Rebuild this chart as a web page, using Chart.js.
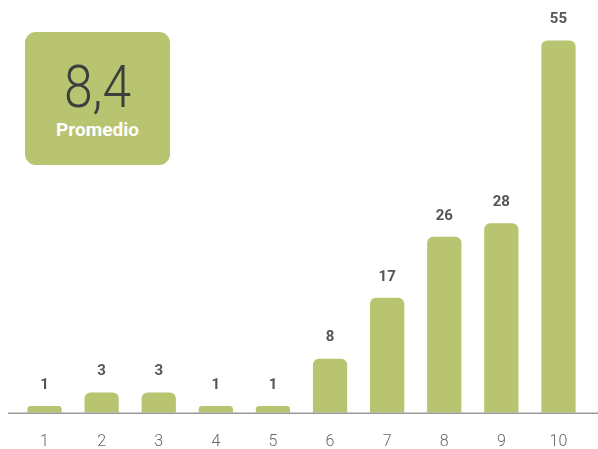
<!DOCTYPE html>
<html>
<head>
<meta charset="utf-8">
<script src="https://cdn.jsdelivr.net/npm/chart.js"></script>
<style>
  html, body { margin: 0; padding: 0; background: #fff; }
  #wrap { position: relative; width: 598px; height: 449px; }
  #avgBox {
    position: absolute; left: 25px; top: 32px; width: 145px; height: 133px;
    background: #b8c46f; border-radius: 11px; text-align: center;
    font-family: Roboto, "Open Sans", sans-serif;
  }
  #avgValue { color: #3d3d3d; font-size: 60px; font-weight: 300; margin-top: 22px; line-height: 66px;
    transform: scaleX(0.86); }
  #avgLabel { color: #fff; font-size: 19px; font-weight: 700; margin-top: -2px; }
</style>
</head>
<body>
<div id="wrap">
  <canvas id="chart" width="598" height="449"></canvas>
  <div id="avgBox">
    <div id="avgValue">8,4</div>
    <div id="avgLabel">Promedio</div>
  </div>
</div>
<script>
// -------------------------------
// DATA
// -------------------------------
const scores = ["1", "2", "3", "4", "5", "6", "7", "8", "9", "10"];
const counts = [1, 3, 3, 1, 1, 8, 17, 26, 28, 55];
const averageText = "8,4";

// value labels above each bar + full-width baseline
const barLabels = {
  id: "barLabels",
  afterDatasetsDraw(chart) {
    const ctx = chart.ctx;
    const meta = chart.getDatasetMeta(0);
    ctx.save();
    ctx.font = "bold 15px Roboto, sans-serif";
    ctx.fillStyle = "#555555";
    ctx.textAlign = "center";
    ctx.textBaseline = "middle";
    meta.data.forEach((bar, i) => {
      ctx.fillText(String(counts[i]), bar.x, bar.y - 21);
    });
    // baseline
    const y = chart.scales.y.getPixelForValue(0);
    ctx.strokeStyle = "#9a9a9a";
    ctx.lineWidth = 1.5;
    ctx.beginPath();
    ctx.moveTo(8, y + 0.5);
    ctx.lineTo(chart.width, y + 0.5);
    ctx.stroke();
    ctx.restore();
  }
};

new Chart(document.getElementById("chart"), {
  type: "bar",
  data: {
    labels: scores,
    datasets: [{
      data: counts,
      backgroundColor: "#b8c46f",
      borderRadius: { topLeft: 6, topRight: 6 },
      borderSkipped: "bottom",
      barPercentage: 1,
      categoryPercentage: 0.6
    }]
  },
  options: {
    responsive: false,
    animation: false,
    layout: { padding: { left: 16, right: 11, top: 0, bottom: -23 } },
    plugins: { legend: { display: false }, tooltip: { enabled: false } },
    scales: {
      x: {
        grid: { display: false, drawTicks: false },
        border: { display: false },
        ticks: {
          color: "#666666",
          padding: 20,
          font: { family: "Roboto, sans-serif", size: 16, weight: 300 }
        }
      },
      y: {
        display: false,
        min: 0,
        max: 61
      }
    }
  },
  plugins: [barLabels]
});
</script>
</body>
</html>
